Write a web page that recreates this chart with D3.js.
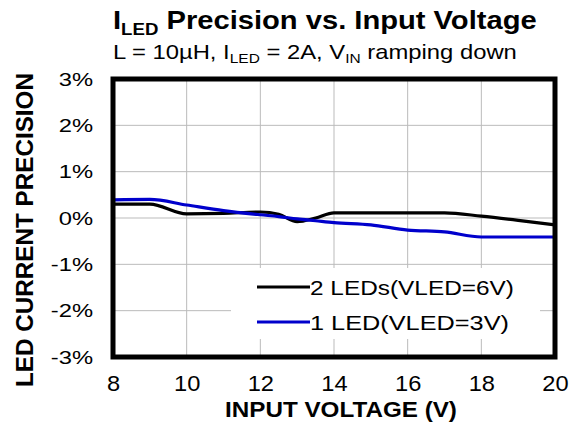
<!DOCTYPE html>
<html lang="en">
<head>
  <meta charset="UTF-8">
  <script src="https://d3js.org/d3.v7.min.js"></script>
  <title>ILED Precision vs. Input Voltage</title>
  <style>
    body { margin: 0; background: #fff; }
    svg { font-family: "Liberation Sans", Arial, sans-serif; }
  </style>
</head>
<body>
<div id="my_dataviz"></div>
<script>
  // data (V, %)
  const vin = [8, 9, 10, 11, 12, 12.5, 13, 13.5, 14, 15, 16, 17, 18, 19, 20];
  const twoLeds = [0.30, 0.30, 0.09, 0.10, 0.13, 0.08, -0.08, 0.00, 0.11, 0.11, 0.11, 0.11, 0.04, -0.05, -0.15];
  const oneLed = [0.39, 0.40, 0.28, 0.16, 0.07, 0.03, -0.02, -0.06, -0.10, -0.15, -0.26, -0.30, -0.41, -0.41, -0.41];
  const xTicks = [8, 10, 12, 14, 16, 18, 20];
  const yTicks = [-3, -2, -1, 0, 1, 2, 3];
  const seriesNames = ["2 LEDs(VLED=6V)", "1 LED(VLED=3V)"];
  const seriesColors = ["#000000", "#0000cc"];

  const W = 576, H = 422;
  const margin = { top: 79, right: 21, bottom: 65, left: 113 },
    width = W - margin.left - margin.right,
    height = H - margin.top - margin.bottom;

  // the reference text is a bit wider than the font, stretch it horizontally
  function stretch(node, s) {
    const t = d3.select(node);
    const ax = +t.attr("x") || 0, ay = +t.attr("y") || 0;
    t.attr("transform", `translate(${ax},${ay}) scale(${s},1) translate(${-ax},${-ay})`);
  }
  function fitWidth(node, target) {
    stretch(node, target / node.getBBox().width);
  }

  const root = d3.select("#my_dataviz").append("svg")
    .attr("width", W).attr("height", H);

  const svg = root.append("g")
    .attr("transform", `translate(${margin.left},${margin.top})`);

  const x = d3.scaleLinear().domain([8, 20]).range([0, width]);
  const y = d3.scaleLinear().domain([-3, 3]).range([height, 0]);

  // grid
  svg.append("g").selectAll("line")
    .data(xTicks).join("line")
    .attr("x1", d => x(d)).attr("x2", d => x(d))
    .attr("y1", 0).attr("y2", height)
    .attr("stroke", "#bbbbbb").attr("stroke-width", 1);
  svg.append("g").selectAll("line")
    .data(yTicks).join("line")
    .attr("x1", 0).attr("x2", width)
    .attr("y1", d => y(d)).attr("y2", d => y(d))
    .attr("stroke", "#bbbbbb").attr("stroke-width", 1);

  // tick labels
  const xAxis = svg.append("g")
    .attr("transform", `translate(0,${height})`)
    .call(d3.axisBottom(x).tickValues(xTicks).tickSize(0).tickPadding(0).tickFormat(d3.format("d")));
  xAxis.select(".domain").remove();
  xAxis.selectAll("text").attr("font-size", 21.5).attr("fill", "#000")
    .attr("font-family", "Liberation Sans, Arial, sans-serif")
    .attr("dy", null).attr("y", 34)
    .each(function () { stretch(this, 1.1); });

  const yAxis = svg.append("g")
    .call(d3.axisLeft(y).tickValues(yTicks).tickSize(0).tickPadding(20)
      .tickFormat(d => d + "%"));
  yAxis.select(".domain").remove();
  yAxis.selectAll("text").attr("font-size", 19).attr("fill", "#000")
    .attr("font-family", "Liberation Sans, Arial, sans-serif")
    .each(function () { stretch(this, 1.25); });

  // legend box (covers grid)
  const legend = svg.append("g");
  legend.append("rect")
    .attr("x", 231 - margin.left).attr("y", 268 - margin.top)
    .attr("width", 309).attr("height", 71)
    .attr("fill", "#fff");

  // lines
  const series = [twoLeds, oneLed];
  const line = d3.line().x((d, i) => x(vin[i])).y(d => y(d)).curve(d3.curveMonotoneX);
  svg.append("g").selectAll("path")
    .data(series).join("path")
    .attr("d", d => line(d))
    .attr("fill", "none")
    .attr("stroke", (d, i) => seriesColors[i])
    .attr("stroke-width", 3.2);

  const legendWidths = [204, 199];
  const items = legend.selectAll("g")
    .data(seriesNames).join("g")
    .attr("transform", (d, i) => `translate(${257 - margin.left},${287 + i * 35 - margin.top})`);
  items.append("line")
    .attr("x1", 0).attr("x2", 53)
    .attr("stroke", (d, i) => seriesColors[i]).attr("stroke-width", 3.2);
  items.append("text")
    .attr("x", 53).attr("y", 7.5)
    .attr("font-size", 21)
    .text(d => d)
    .each(function (d, i) { fitWidth(this, legendWidths[i]); });

  // frame
  svg.append("rect")
    .attr("x", 0).attr("y", 0).attr("width", width).attr("height", height)
    .attr("fill", "none").attr("stroke", "#000").attr("stroke-width", 5);

  // titles
  const title = root.append("text")
    .attr("x", 113).attr("y", 29)
    .attr("font-size", 25).attr("font-weight", "bold");
  title.append("tspan").text("I");
  title.append("tspan").attr("font-size", 16).attr("dy", 6).text("LED");
  title.append("tspan").attr("dy", -6).text(" Precision vs. Input Voltage");
  fitWidth(title.node(), 424);

  const sub = root.append("text")
    .attr("x", 113).attr("y", 59).attr("font-size", 20);
  sub.append("tspan").text("L = 10µH, I");
  sub.append("tspan").attr("font-size", 13).attr("dy", 4).text("LED");
  sub.append("tspan").attr("dy", -4).text(" = 2A, V");
  sub.append("tspan").attr("font-size", 13).attr("dy", 4).text("IN");
  sub.append("tspan").attr("dy", -4).text(" ramping down");
  fitWidth(sub.node(), 404);

  const xt = root.append("text")
    .attr("x", 341).attr("y", 417)
    .attr("text-anchor", "middle")
    .attr("font-size", 22.5).attr("font-weight", "bold")
    .text("INPUT VOLTAGE (V)");
  fitWidth(xt.node(), 232);

  root.append("text")
    .attr("transform", `translate(33,230) rotate(-90)`)
    .attr("text-anchor", "middle")
    .attr("font-size", 23).attr("font-weight", "bold")
    .attr("textLength", 314).attr("lengthAdjust", "spacingAndGlyphs")
    .text("LED CURRENT PRECISION");
</script>
</body>
</html>
